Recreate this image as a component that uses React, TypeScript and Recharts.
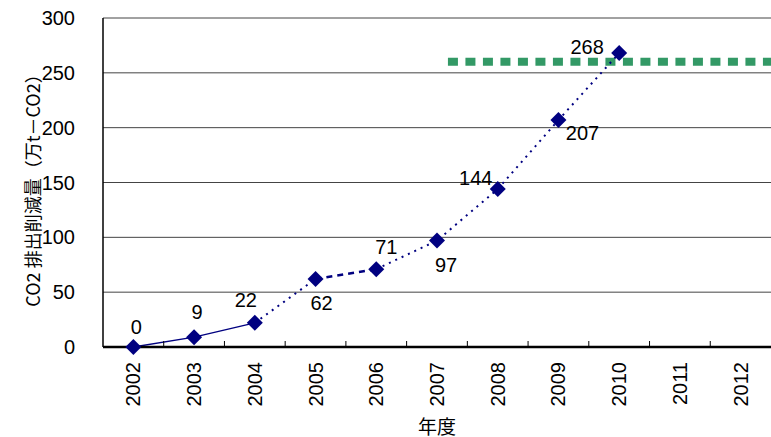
import React from 'react';
import { LineChart, Line, XAxis, YAxis, CartesianGrid, ReferenceLine, LabelList } from 'recharts';

const years = [2002, 2003, 2004, 2005, 2006, 2007, 2008, 2009, 2010, 2011, 2012];
const reductions = [0, 9, 22, 62, 71, 97, 144, 207, 268];
const yTicks = [0, 50, 100, 150, 200, 250, 300];
const targetValue = 260;
const targetFrom = 2007.18;
const targetTo = 2012.5;

const points = reductions.map((v, i) => ({ year: years[i], value: v }));
const solidPart = points.slice(0, 3);
const dottedPartA = points.slice(2, 4);
const dashedPart = points.slice(3, 5);
const dottedPartB = points.slice(4);

// where each value label sits relative to its marker
const labelOffsets = [
  [3, -20], [3, -25], [-9, -23], [6, 24], [10, -22],
  [9, 24], [-22, -11], [24, 13], [-32, -6],
];

const NAVY = '#000080';
const FONT = '"Liberation Sans", Arial, sans-serif';
const CJK = '"Noto Sans CJK JP", "Liberation Sans", sans-serif';

const Diamond = (props: any) => {
  const { cx, cy } = props;
  if (cx == null || cy == null) return null;
  const r = 8;
  return <path d={`M${cx},${cy - r}L${cx + r},${cy}L${cx},${cy + r}L${cx - r},${cy}Z`} fill={NAVY} />;
};

const YearTick = (props: any) => {
  const { x, y, payload, index } = props;
  const half = 30.35;
  return (
    <g>
      {index < years.length - 1 && (
        <line x1={x + half} x2={x + half} y1={y - 6} y2={y} stroke="#000" strokeWidth={1} />
      )}
      <text
        x={x}
        y={y + 15}
        transform={`rotate(-90 ${x} ${y + 15})`}
        textAnchor="end"
        dominantBaseline="central"
        fontSize={20}
        fontFamily={FONT}
        fill="#000"
      >
        {payload.value}
      </text>
    </g>
  );
};

const ValueLabel = (props: any) => {
  const { x, y, value, index } = props;
  const [dx, dy] = labelOffsets[index] || [0, -20];
  return (
    <text x={x + dx} y={y + dy} textAnchor="middle" dominantBaseline="central" fontSize={20} fontFamily={FONT} fill="#000">
      {value}
    </text>
  );
};

export default function App() {
  return (
    <div style={{ position: 'absolute', left: 0, top: 0, background: '#fff' }}>
      <LineChart width={771} height={437} margin={{ top: 18, right: 0, left: 0, bottom: 0 }}>
        <CartesianGrid vertical={false} stroke="#444" strokeWidth={1} />
        <XAxis
          dataKey="year"
          type="number"
          domain={[2001.5, 2012.5]}
          ticks={years}
          allowDuplicatedCategory={false}
          height={90}
          tickLine={false}
          tickSize={0}
          tickMargin={0}
          interval={0}
          stroke="#000"
          strokeWidth={2.5}
          tick={<YearTick />}
          label={() => (
            <text x={437} y={425} textAnchor="middle" dominantBaseline="central" fontSize={19} fontFamily={CJK} fill="#000">
              年度
            </text>
          )}
        />
        <YAxis
          type="number"
          domain={[0, 300]}
          ticks={yTicks}
          width={103}
          tickLine={false}
          tickMargin={22}
          stroke="#000"
          strokeWidth={1.5}
          tick={{ fontSize: 20, fontFamily: FONT, fill: '#000' }}
          label={() => (
            <text
              x={32}
              y={186}
              transform="rotate(-90 32 186)"
              textAnchor="middle"
              dominantBaseline="central"
              fontSize={18}
              fontFamily={CJK}
              fill="#000"
            >
              CO2 排出削減量（万t－CO2）
            </text>
          )}
        />
        <ReferenceLine
          segment={[{ x: targetFrom, y: targetValue }, { x: targetTo, y: targetValue }]}
          stroke="#339966"
          strokeWidth={8}
          strokeDasharray="10 7.5"
        />
        <Line data={solidPart} dataKey="value" stroke={NAVY} strokeWidth={1.5} dot={false} isAnimationActive={false} />
        <Line data={dottedPartA} dataKey="value" stroke={NAVY} strokeWidth={2} strokeDasharray="2 5" dot={false} isAnimationActive={false} />
        <Line data={dashedPart} dataKey="value" stroke={NAVY} strokeWidth={2.5} strokeDasharray="6 5" dot={false} isAnimationActive={false} />
        <Line data={dottedPartB} dataKey="value" stroke={NAVY} strokeWidth={2} strokeDasharray="2 5" dot={false} isAnimationActive={false} />
        <Line
          data={points}
          dataKey="value"
          stroke="none"
          dot={<Diamond />}
          activeDot={false}
          isAnimationActive={false}
        >
          <LabelList dataKey="value" content={<ValueLabel />} />
        </Line>
      </LineChart>
    </div>
  );
}
